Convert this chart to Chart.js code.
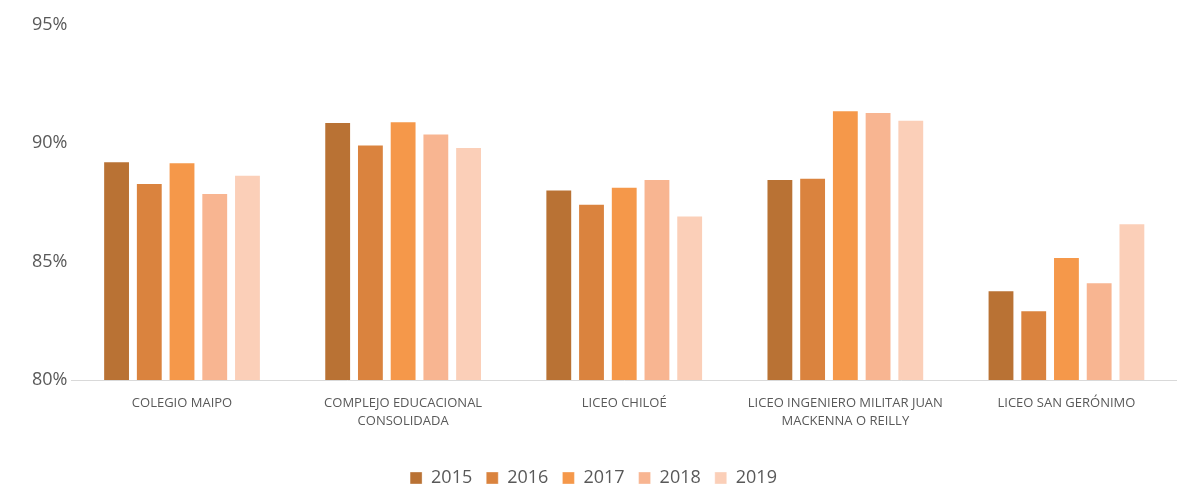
<!DOCTYPE html>
<html>
<head>
<meta charset="utf-8">
<script src="https://cdn.jsdelivr.net/npm/chart.js@4"></script>
<style>
  html, body { margin: 0; padding: 0; background: #fff; }
  #wrap { width: 1177px; height: 485px; position: relative; }
</style>
</head>
<body>
<div id="wrap"><canvas id="myChart"></canvas></div>
<script>
'use strict'
// escuelas
const schools = [
    'COLEGIO MAIPO',
    ['COMPLEJO EDUCACIONAL', 'CONSOLIDADA'],
    'LICEO CHILOÉ',
    ['LICEO INGENIERO MILITAR JUAN', 'MACKENNA O REILLY'],
    'LICEO SAN GERÓNIMO'
];
const years = ['2015', '2016', '2017', '2018', '2019'];
// valores en %
const v2015 = [89.25, 90.9, 88.05, 88.5, 83.8];
const v2016 = [88.33, 89.95, 87.45, 88.55, 82.95];
const v2017 = [89.2, 90.93, 88.17, 91.4, 85.2];
const v2018 = [87.9, 90.42, 88.5, 91.32, 84.13];
const v2019 = [88.67, 89.85, 86.95, 91.0, 86.63];
const yTicks = [80, 85, 90, 95];

const colors = ['#B97234', '#DA833E', '#F5984A', '#F8B591', '#FBCFB8'];
const series = [v2015, v2016, v2017, v2018, v2019];

const ctx = document.getElementById('myChart').getContext('2d');
const font = "'Open Sans', 'Liberation Sans', sans-serif";

function chartConfig() {
    return {
        type: 'bar',
        data: {
            labels: schools,
            datasets: series.map((d, i) => ({
                label: years[i],
                data: d,
                backgroundColor: colors[i],
                borderColor: 'rgba(255,255,255,0.35)',
                borderWidth: 1,
                categoryPercentage: 0.74,
                barPercentage: 0.82
            }))
        },
        options: {
            responsive: true,
            maintainAspectRatio: false,
            animation: false,
            layout: { padding: { left: 10, right: 0, top: 25, bottom: -12 } },
            plugins: {
                tooltip: { enabled: false },
                legend: {
                    position: 'bottom',
                    labels: {
                        boxWidth: 12,
                        boxHeight: 12,
                        padding: 14,
                        color: '#595959',
                        font: { family: font, size: 18 }
                    }
                }
            },
            scales: {
                x: {
                    grid: { display: false, drawTicks: false },
                    border: { color: '#D9D9D9', width: 1 },
                    afterFit: (scale) => { scale.height += 11; },
                    ticks: {
                        color: '#595959',
                        font: { family: font, size: 13, lineHeight: 1.38 },
                        maxRotation: 0,
                        autoSkip: false,
                        padding: 14
                    }
                },
                y: {
                    min: 80,
                    max: 95,
                    afterBuildTicks: (axis) => { axis.ticks = yTicks.map(v => ({ value: v })); },
                    afterFit: (scale) => { scale.width += 18; },
                    grid: { display: false, drawTicks: false },
                    border: { display: false },
                    ticks: {
                        color: '#595959',
                        font: { family: font, size: 18 },
                        padding: 4,
                        callback: (v) => v + '%'
                    }
                }
            }
        }
    };
}

const myChart = new Chart(ctx, chartConfig());
</script>
</body>
</html>
